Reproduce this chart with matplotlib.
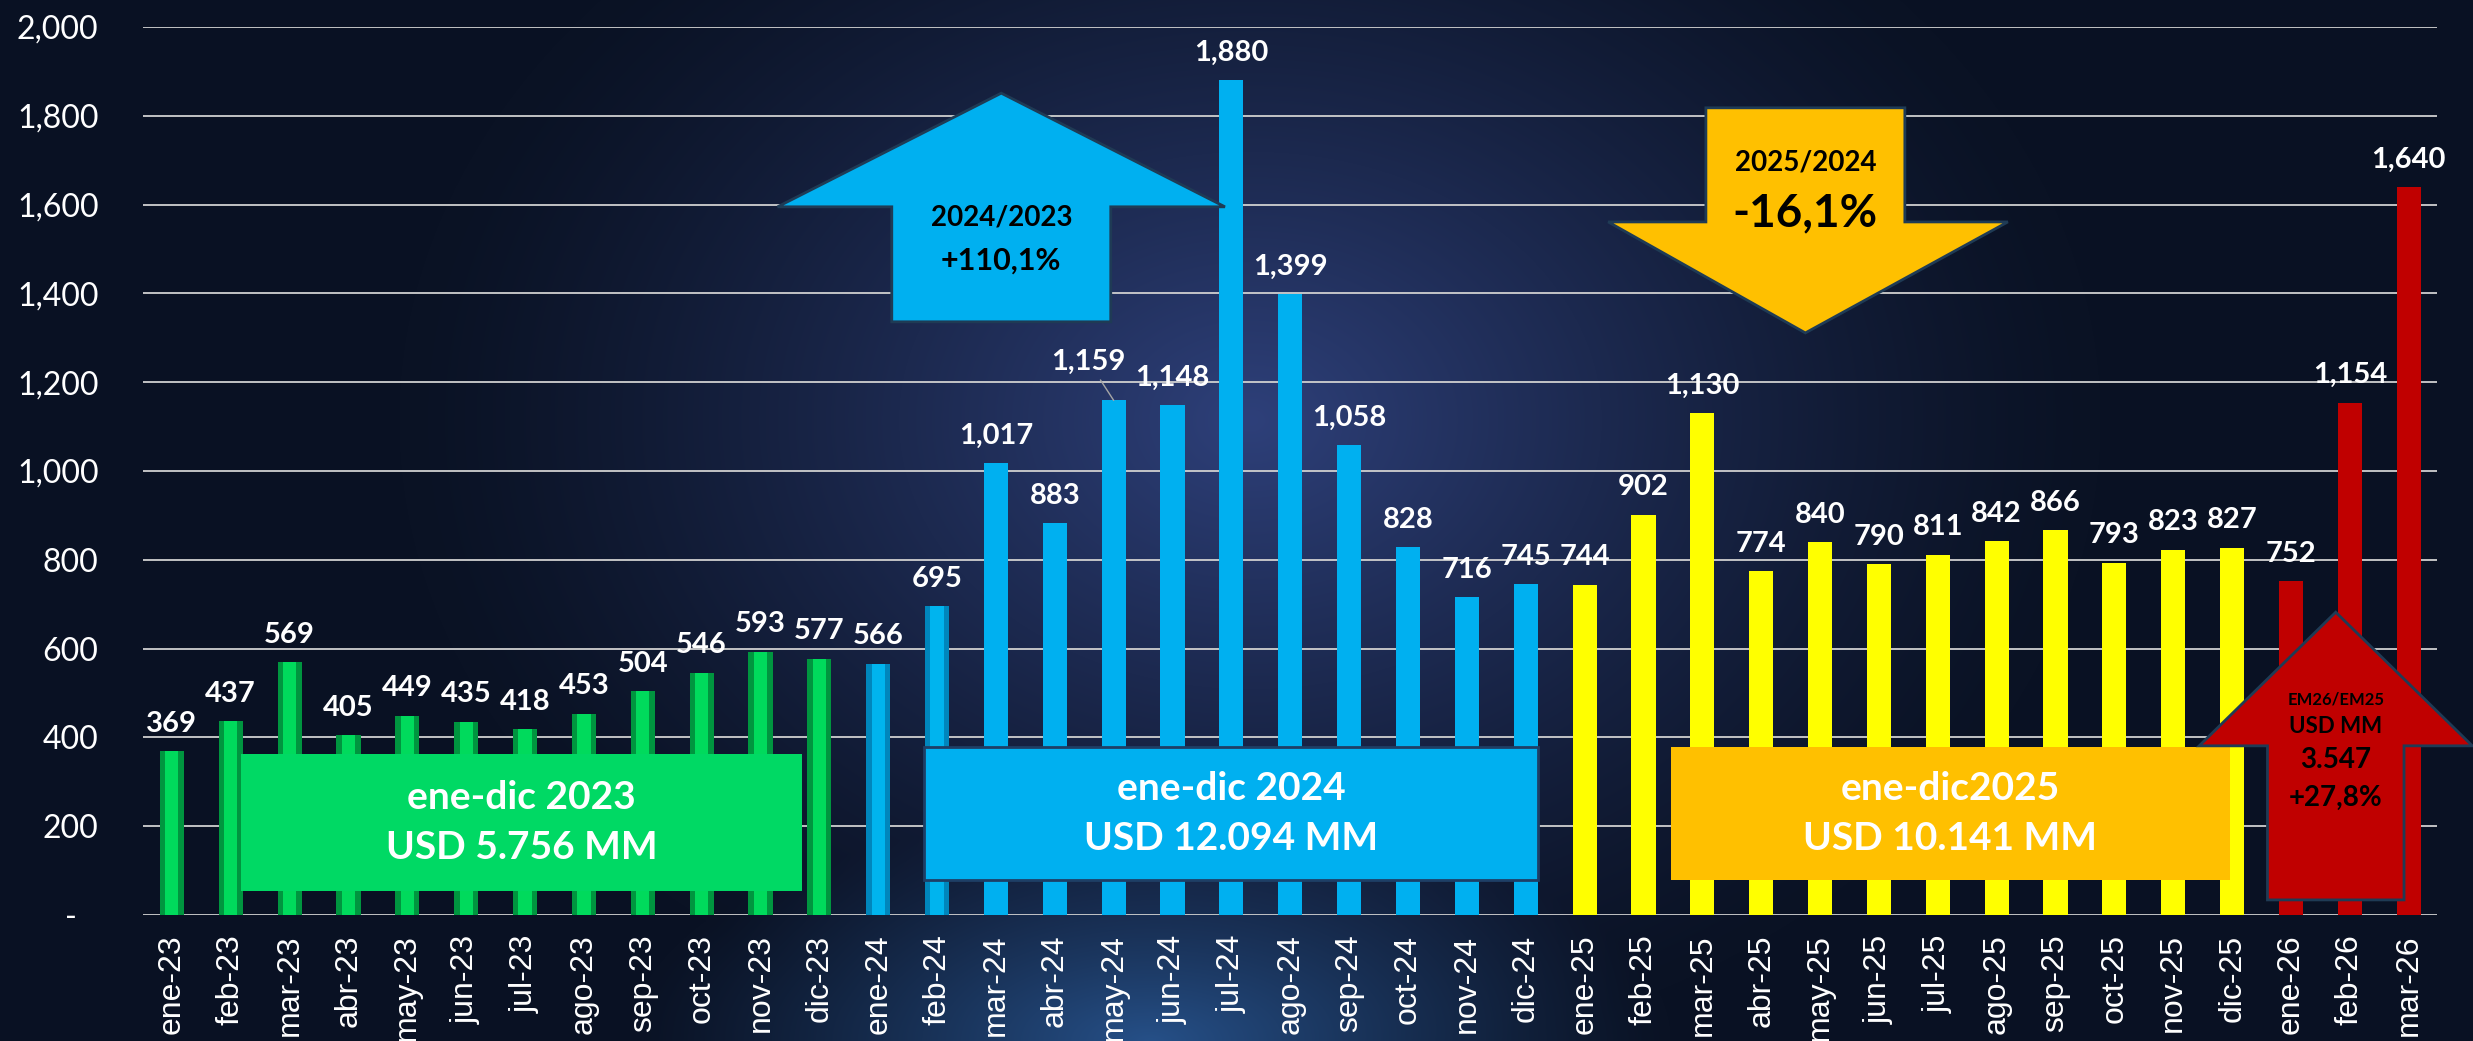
import numpy as np
import matplotlib
matplotlib.use("Agg")
import matplotlib.pyplot as plt
from matplotlib.patches import Polygon, Rectangle
from matplotlib.transforms import ScaledTranslation
from matplotlib import font_manager

# ---------------- data ----------------
months = ["ene-23", "feb-23", "mar-23", "abr-23", "may-23", "jun-23", "jul-23", "ago-23",
          "sep-23", "oct-23", "nov-23", "dic-23",
          "ene-24", "feb-24", "mar-24", "abr-24", "may-24", "jun-24", "jul-24", "ago-24",
          "sep-24", "oct-24", "nov-24", "dic-24",
          "ene-25", "feb-25", "mar-25", "abr-25", "may-25", "jun-25", "jul-25", "ago-25",
          "sep-25", "oct-25", "nov-25", "dic-25",
          "ene-26", "feb-26", "mar-26"]
values_2023 = [369, 437, 569, 405, 449, 435, 418, 453, 504, 546, 593, 577]
values_2024 = [566, 695, 1017, 883, 1159, 1148, 1880, 1399, 1058, 828, 716, 745]
values_2025 = [744, 902, 1130, 774, 840, 790, 811, 842, 866, 793, 823, 827]
values_2026 = [752, 1154, 1640]
yticks = [0, 200, 400, 600, 800, 1000, 1200, 1400, 1600, 1800, 2000]

box_2023 = ["ene-dic 2023", "USD 5.756 MM"]
box_2024 = ["ene-dic 2024", "USD 12.094 MM"]
box_2025 = ["ene-dic2025", "USD 10.141 MM"]
arrow_2024 = ["2024/2023", "+110,1%"]
arrow_2025 = ["2025/2024", "-16,1%"]
arrow_2026 = ["EM26/EM25", "USD MM", "3.547", "+27,8%"]

# ---------------- fonts ----------------
names = {f.name for f in font_manager.fontManager.ttflist}
CAL = "Lato" if "Lato" in names else "DejaVu Sans"
ARI = "Liberation Sans" if "Liberation Sans" in names else "DejaVu Sans"

W, H = 2473, 1041
fig = plt.figure(figsize=(W / 100, H / 100), dpi=100)

# ---------------- background ----------------
bg = fig.add_axes([0, 0, 1, 1])
bg.axis("off")
yy, xx = np.mgrid[0:H, 0:W]
base = np.array([10, 18, 36]) / 255.0
glow = np.array([46, 64, 122]) / 255.0
glow2 = np.array([38, 80, 136]) / 255.0
d1 = np.sqrt(((xx - 1250) / 850.0) ** 2 + ((yy - 420) / 650.0) ** 2)
t1 = np.clip(1 - d1, 0, 1) ** 1.3
d2 = np.sqrt(((xx - 1150) / 520.0) ** 2 + ((yy - 1041) / 230.0) ** 2)
t2 = np.clip(1 - d2, 0, 1) ** 1.2
img = base + t1[..., None] * (glow - base)
img = img + t2[..., None] * (glow2 - img)
bg.imshow(np.clip(img, 0, 1), extent=[0, 1, 0, 1], aspect="auto", origin="upper")
bg.set_xlim(0, 1)
bg.set_ylim(0, 1)

# ---------------- main axes ----------------
ax = fig.add_axes([143 / W, 1 - 915 / H, (2437 - 143) / W, (915 - 27) / H])
ax.set_facecolor("none")
for s in ax.spines.values():
    s.set_visible(False)

all_vals = values_2023 + values_2024 + values_2025 + values_2026
x = np.arange(len(all_vals))
bw = 0.41

n23, n24, n25 = len(values_2023), len(values_2024), len(values_2025)
x23 = x[:n23]
x24 = x[n23:n23 + n24]
x25 = x[n23 + n24:n23 + n24 + n25]
x26 = x[n23 + n24 + n25:]

# bevelled green bars (2023)
ax.bar(x23, values_2023, width=bw, color="#00953F", zorder=2)
ax.bar(x23, values_2023, width=bw * 0.55, color="#00DA5C", zorder=2.1)
# bevelled first two blue bars
ax.bar(x24[:2], values_2024[:2], width=bw, color="#0086BC", zorder=2)
ax.bar(x24[:2], values_2024[:2], width=bw * 0.55, color="#00B4EE", zorder=2.1)
# flat bars
ax.bar(x24[2:], values_2024[2:], width=bw, color="#00B0F0", zorder=2)
ax.bar(x25, values_2025, width=bw, color="#FFFF00", zorder=2)
ax.bar(x26, values_2026, width=bw, color="#C00000", zorder=2)

# value labels
for xi, v in zip(x, all_vals):
    lbl = f"{v:,}"
    if v == 1159:
        ax.annotate(lbl, (xi, v), xytext=(-18, 22), textcoords="offset points",
                    ha="center", va="baseline", color="white", fontsize=21,
                    fontweight="bold", family=CAL, zorder=8,
                    arrowprops=dict(arrowstyle="-", color="#A6A6A6", lw=1.0,
                                    shrinkA=2, shrinkB=0))
    else:
        ax.annotate(lbl, (xi, v), xytext=(0, 14), textcoords="offset points",
                    ha="center", va="baseline", color="white", fontsize=21,
                    fontweight="bold", family=CAL, zorder=8)

ax.set_xlim(-0.49, len(all_vals) - 0.52)
ax.set_ylim(0, 2000)
ax.set_yticks(yticks)
ax.set_yticklabels(["-" if v == 0 else f"{v:,}" for v in yticks],
                   color="white", fontsize=23, family=CAL)
ax.set_xticks(x)
ax.set_xticklabels(months, rotation=90, color="white", fontsize=23, family=ARI)
ax.tick_params(axis="both", length=0)
ax.tick_params(axis="y", pad=32)
ax.tick_params(axis="x", pad=14)
ax.get_yticklabels()[0].set_transform(
    ax.get_yticklabels()[0].get_transform() + ScaledTranslation(-22 / 100, 0, fig.dpi_scale_trans))
ax.yaxis.grid(True, color="#D0D0D0", lw=1.3, zorder=0)
ax.set_axisbelow(True)

# ---------------- summary boxes ----------------
def box(x0, x1, y0, y1, color, lines, edge=None):
    ax.add_patch(Rectangle((x0, y0), x1 - x0, y1 - y0, facecolor=color,
                           edgecolor=edge if edge else "none", lw=2, zorder=5))
    ax.text((x0 + x1) / 2, (y0 + y1) / 2, "\n".join(lines), ha="center", va="center",
            color="white", fontsize=28, fontweight="bold", family=CAL,
            linespacing=1.5, zorder=6)

box(1.18, 10.70, 54, 363, "#00D964", box_2023)
box(12.78, 23.20, 79, 378, "#00B0F0", box_2024, edge="#1E3F66")
box(25.47, 34.96, 79, 378, "#FFC000", box_2025)

# ---------------- arrows ----------------
def up_arrow(cx, shaft_hw, head_hw, y_bot, y_head, y_tip, color):
    pts = [(cx - shaft_hw, y_bot), (cx - shaft_hw, y_head), (cx - head_hw, y_head),
           (cx, y_tip), (cx + head_hw, y_head), (cx + shaft_hw, y_head), (cx + shaft_hw, y_bot)]
    ax.add_patch(Polygon(pts, closed=True, facecolor=color, edgecolor="#1F3B55",
                         lw=2, zorder=7, clip_on=False))

up_arrow(14.09, 1.86, 3.80, 1336, 1595, 1851, "#00B0F0")
ax.text(14.09, 1572, arrow_2024[0], ha="center", va="center", color="black",
        fontsize=20, fontweight="bold", family=CAL, zorder=8)
ax.text(14.09, 1475, arrow_2024[1], ha="center", va="center", color="black",
        fontsize=22, fontweight="bold", family=CAL, zorder=8)

# down arrow (2025/2024)
cx = 27.75
pts = [(cx - 1.69, 1818), (cx - 1.69, 1561), (cx - 3.35, 1561), (cx, 1311),
       (cx + 3.44, 1561), (cx + 1.69, 1561), (cx + 1.69, 1818)]
ax.add_patch(Polygon(pts, closed=True, facecolor="#FFC000", edgecolor="#1F3B55",
                     lw=2, zorder=7))
ax.text(cx, 1694, arrow_2025[0], ha="center", va="center", color="black",
        fontsize=20, fontweight="bold", family=CAL, zorder=8)
ax.text(cx, 1581, arrow_2025[1], ha="center", va="center", color="black",
        fontsize=33, fontweight="bold", family=CAL, zorder=8)

up_arrow(36.76, 1.16, 2.32, 34, 381, 682, "#C00000")
ax.text(36.76, 486, arrow_2026[0], ha="center", va="center", color="black",
        fontsize=12, fontweight="bold", family=CAL, zorder=8)
ax.text(36.76, 425, arrow_2026[1], ha="center", va="center", color="black",
        fontsize=16, fontweight="bold", family=CAL, zorder=8)
ax.text(36.76, 349, arrow_2026[2], ha="center", va="center", color="black",
        fontsize=20, fontweight="bold", family=CAL, zorder=8)
ax.text(36.76, 263, arrow_2026[3], ha="center", va="center", color="black",
        fontsize=20, fontweight="bold", family=CAL, zorder=8)

fig.savefig("out.png", dpi=100, facecolor="#0A1224")
